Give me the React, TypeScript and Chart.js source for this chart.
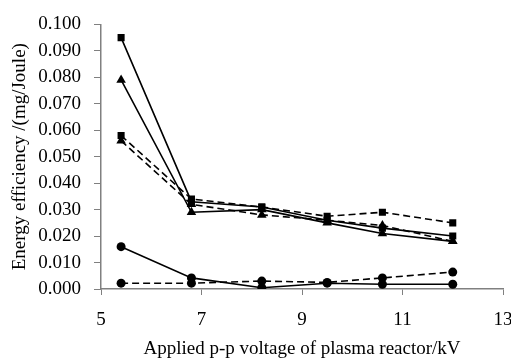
import React, { useEffect, useRef } from "react";
import { Chart, registerables } from "chart.js";

Chart.register(...registerables);

const voltages = [5.4, 6.8, 8.2, 9.5, 10.6, 12.0];
const solidSquare = [0.095, 0.033, 0.031, 0.026, 0.023, 0.020];
const solidTriangle = [0.079, 0.029, 0.030, 0.025, 0.021, 0.018];
const dashedSquare = [0.058, 0.034, 0.031, 0.0275, 0.029, 0.025];
const dashedTriangle = [0.056, 0.032, 0.028, 0.026, 0.024, 0.018];
const solidCircle = [0.016, 0.0042, 0.0005, 0.0022, 0.0018, 0.0018];
const dashedCircle = [0.0022, 0.0022, 0.003, 0.0025, 0.0042, 0.0064];
const yTicks = [0, 0.01, 0.02, 0.03, 0.04, 0.05, 0.06, 0.07, 0.08, 0.09, 0.1];
const xTicks = [5, 7, 9, 11, 13];

const FONT = "'Liberation Serif', 'Times New Roman', serif";
const FS = 19;

export default function App() {
  const ref = useRef<HTMLCanvasElement | null>(null);
  useEffect(() => {
    document.body.style.margin = "0";
    const toPts = (ys: number[]) => voltages.map((x, i) => ({ x, y: ys[i] }));
    const mk = (ys: number[], style: string, dashed: boolean, radius: number) => ({
      data: toPts(ys),
      borderColor: "#000",
      backgroundColor: "#000",
      borderWidth: 1.6,
      borderDash: dashed ? [7, 4] : [],
      pointStyle: style,
      pointRadius: radius,
      pointBorderWidth: 0,
      pointBackgroundColor: "#000",
      pointBorderColor: "#000",
      tension: 0,
    });
    const chart = new Chart(ref.current as HTMLCanvasElement, {
      type: "line",
      data: {
        datasets: [
          mk(solidSquare, "rect", false, 5),
          mk(solidTriangle, "triangle", false, 5.5),
          mk(dashedSquare, "rect", true, 5),
          mk(dashedTriangle, "triangle", true, 5.5),
          mk(solidCircle, "circle", false, 4.5),
          mk(dashedCircle, "circle", true, 4.5),
        ] as any,
      },
      options: {
        responsive: false,
        animation: false,
        layout: { padding: { top: 21, right: 8, left: 0, bottom: 0 } },
        plugins: { legend: { display: false }, tooltip: { enabled: false } },
        scales: {
          x: {
            type: "linear",
            min: 5,
            max: 13,
            afterBuildTicks: (s: any) => {
              s.ticks = xTicks.map((v) => ({ value: v }));
            },
            afterFit: (s: any) => {
              s.height = 72;
              s.paddingRight = 0;
              s.paddingLeft = 0;
            },
            grid: { display: true, drawOnChartArea: false, drawTicks: true, tickLength: 6, color: "#808080" },
            border: { display: true, color: "#808080", width: 1.5 },
            ticks: { color: "#000", font: { family: FONT, size: FS }, padding: 14, maxRotation: 0 },
            title: {
              display: true,
              text: "Applied p-p voltage of plasma reactor/kV",
              color: "#000",
              font: { family: FONT, size: FS },
              padding: { top: 0, bottom: 1 },
            },
          },
          y: {
            type: "linear",
            min: 0,
            max: 0.1,
            afterBuildTicks: (s: any) => {
              s.ticks = yTicks.map((v) => ({ value: v }));
            },
            afterFit: (s: any) => {
              s.width = 101;
            },
            grid: { display: true, drawOnChartArea: false, drawTicks: true, tickLength: 7, color: "#808080" },
            border: { display: true, color: "#808080", width: 1.5 },
            ticks: {
              color: "#000",
              font: { family: FONT, size: FS },
              padding: 13,
              callback: (v: any) => Number(v).toFixed(3),
            },
            title: {
              display: true,
              text: "Energy efficiency /(mg/Joule)",
              color: "#000",
              font: { family: FONT, size: FS },
              padding: { top: 9, bottom: 0 },
            },
          },
        },
      } as any,
    });
    return () => chart.destroy();
  }, []);
  return (
    <div style={{ width: 511, height: 361 }}>
      <canvas ref={ref} width={511} height={361} style={{ display: "block" }} />
    </div>
  );
}
